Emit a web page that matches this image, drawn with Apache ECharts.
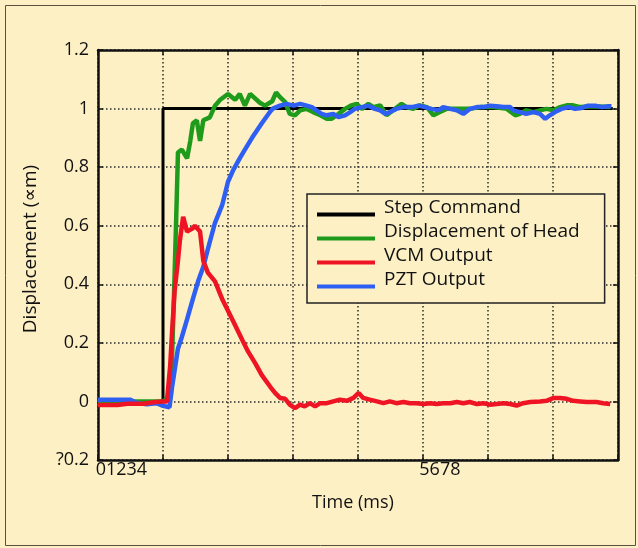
<!DOCTYPE html>
<html style="height: 100%">
<head>
  <meta charset="utf-8">
</head>
<body style="height: 100%; margin: 0; background: #fdf0c5">
  <div id="container" style="width: 638px; height: 548px"></div>
  <script src="https://cdn.jsdelivr.net/npm/echarts@6/dist/echarts.min.js"></script>
  <script type="text/javascript">
    // series names (legend order)
    var seriesNames = ['Step Command', 'Displacement of Head', 'VCM Output', 'PZT Output'];

    // tick labels as printed in the figure
    var xTickLabels = ['01234', '5678'];
    var xTickLabelAt = [0.36, 5.26];
    var yTickLabels = ['?0.2', '0', '0.2', '0.4', '0.6', '0.8', '1', '1.2'];

    // [time (ms), displacement]
    var stepData = [[0, 0], [1.0, 0], [1.0, 1], [7.92, 1]];

    var headData = [
      [0, 0], [1.0, 0], [1.12, 0.02], [1.17, 0.37], [1.2, 0.6], [1.23, 0.85],
      [1.29, 0.86], [1.37, 0.83], [1.42, 0.89], [1.46, 0.95], [1.52, 0.96],
      [1.57, 0.89], [1.62, 0.96], [1.72, 0.97], [1.8, 1.01], [1.88, 1.03],
      [2.0, 1.05], [2.11, 1.03], [2.18, 1.05], [2.26, 1.01], [2.34, 1.05],
      [2.49, 1.02], [2.57, 1.01], [2.68, 1.025], [2.74, 1.055], [2.8, 1.039],
      [2.88, 1.022], [2.95, 0.982], [3.03, 0.977], [3.11, 0.994], [3.21, 0.999],
      [3.31, 0.988], [3.42, 0.977], [3.52, 0.965], [3.59, 0.965], [3.70, 0.982],
      [3.80, 0.999], [3.90, 1.011], [3.98, 1.016], [4.06, 0.999], [4.16, 1.016],
      [4.24, 1.005], [4.34, 1.011], [4.44, 0.977], [4.54, 0.994], [4.67, 1.016],
      [4.75, 1.005], [4.85, 0.999], [4.95, 1.011], [5.06, 1.005], [5.16, 0.977],
      [5.26, 0.988], [5.36, 0.999], [5.57, 0.999], [5.72, 0.999], [5.88, 1.005],
      [6.08, 1.005], [6.29, 0.999], [6.42, 0.977], [6.49, 0.982], [6.59, 0.994],
      [6.70, 0.988], [6.80, 0.994], [6.90, 0.999], [7.01, 0.994], [7.11, 1.005],
      [7.21, 1.011], [7.31, 1.011], [7.42, 1.005], [7.62, 1.008], [7.88, 1.005]
    ];

    var vcmData = [
      [0, -0.012], [0.3, -0.012], [0.45, -0.008], [0.7, -0.008], [0.85, -0.003],
      [0.98, 0.0], [1.06, 0.0], [1.11, 0.12], [1.14, 0.24], [1.18, 0.38],
      [1.23, 0.48], [1.26, 0.55], [1.31, 0.63], [1.37, 0.58], [1.45, 0.59],
      [1.49, 0.6], [1.57, 0.58], [1.62, 0.48], [1.69, 0.44], [1.8, 0.41],
      [1.91, 0.35], [2.0, 0.31], [2.11, 0.26], [2.22, 0.21], [2.31, 0.17],
      [2.42, 0.13], [2.52, 0.09], [2.65, 0.05], [2.72, 0.03], [2.80, 0.012],
      [2.88, 0.009], [2.95, -0.011], [3.03, -0.023], [3.11, -0.011], [3.18, -0.017],
      [3.26, -0.006], [3.34, -0.017], [3.42, -0.006], [3.52, -0.006], [3.62, 0.0],
      [3.72, 0.006], [3.83, 0.002], [3.93, 0.012], [4.01, 0.029], [4.08, 0.012],
      [4.18, 0.006], [4.29, 0.0], [4.39, -0.006], [4.49, 0.0], [4.59, -0.006],
      [4.70, -0.002], [4.80, -0.006], [4.90, -0.006], [5.01, -0.009], [5.11, -0.006],
      [5.21, -0.009], [5.31, -0.006], [5.42, -0.006], [5.52, -0.002], [5.62, -0.006],
      [5.72, -0.002], [5.83, -0.009], [5.93, -0.006], [6.03, -0.011], [6.13, -0.009],
      [6.24, -0.006], [6.34, -0.009], [6.44, -0.014], [6.54, -0.006], [6.65, -0.002],
      [6.80, 0.0], [6.90, 0.002], [7.01, 0.012], [7.11, 0.012], [7.21, 0.009],
      [7.31, 0.002], [7.42, 0.0], [7.52, -0.002], [7.67, -0.002], [7.77, -0.006],
      [7.88, -0.009]
    ];

    var pztData = [
      [0, 0.006], [0.5, 0.006], [0.6, -0.005], [0.75, -0.01], [0.9, -0.006],
      [1.0, -0.015], [1.1, -0.02], [1.14, 0.05], [1.23, 0.18], [1.29, 0.22],
      [1.37, 0.28], [1.46, 0.35], [1.54, 0.41], [1.62, 0.46], [1.69, 0.52],
      [1.8, 0.61], [1.91, 0.67], [2.0, 0.75], [2.08, 0.79], [2.18, 0.83],
      [2.26, 0.86], [2.37, 0.9], [2.52, 0.95], [2.65, 0.99], [2.69, 1.0],
      [2.80, 1.01], [2.90, 1.016], [3.01, 1.01], [3.11, 1.016], [3.21, 1.01],
      [3.29, 1.005], [3.36, 0.994], [3.44, 0.982], [3.52, 0.977], [3.62, 0.982],
      [3.70, 0.971], [3.80, 0.977], [3.88, 0.988], [3.95, 0.999], [4.06, 1.005],
      [4.16, 1.01], [4.26, 0.999], [4.34, 0.994], [4.42, 0.982], [4.49, 0.988],
      [4.59, 0.999], [4.70, 1.005], [4.83, 1.005], [4.93, 1.01], [5.03, 1.005],
      [5.13, 0.999], [5.24, 0.994], [5.31, 1.005], [5.42, 0.999], [5.52, 0.994],
      [5.62, 0.982], [5.72, 0.999], [5.83, 1.005], [5.93, 1.005], [6.03, 1.01],
      [6.13, 1.008], [6.24, 1.005], [6.34, 1.005], [6.39, 0.994], [6.49, 0.988],
      [6.59, 0.982], [6.70, 0.988], [6.80, 0.982], [6.88, 0.965], [6.95, 0.977],
      [7.03, 0.988], [7.13, 0.999], [7.24, 1.005], [7.34, 0.999], [7.44, 1.002],
      [7.54, 1.01], [7.65, 1.01], [7.75, 1.005], [7.85, 1.008], [7.90, 1.008]
    ];

    var font = "'Open Sans', 'DejaVu Sans', sans-serif";
    var ink = '#111';

    var dom = document.getElementById('container');
    var myChart = echarts.init(dom, null, { renderer: 'canvas' });

    function frameAxis(pos) {
      // plain frame side: line + inward ticks, nothing else
      return {
        type: 'value',
        position: pos,
        axisLine: { show: true, onZero: false, lineStyle: { color: ink, width: 2.5 } },
        axisTick: { show: true, inside: true, length: 5, lineStyle: { color: ink, width: 1.5 } },
        axisLabel: { show: false },
        splitLine: { show: false }
      };
    }

    var xTop = frameAxis('top');
    xTop.min = 0; xTop.max = 8; xTop.interval = 1;
    var yRight = frameAxis('right');
    yRight.min = -0.2; yRight.max = 1.2; yRight.interval = 0.2;

    var option = {
      backgroundColor: '#fdf0c5',
      animation: false,
      graphic: [{
        type: 'rect',
        shape: { x: 5.5, y: 5.5, width: 630, height: 540 },
        style: { fill: 'none', stroke: '#5a5040', lineWidth: 1 },
        silent: true
      }],
      grid: { left: 98, right: 20, top: 50, bottom: 88, outerBoundsMode: 'none' },
      legend: {
        data: seriesNames,
        orient: 'vertical',
        left: 307,
        top: 194,
        icon: 'rect',
        itemWidth: 58,
        itemHeight: 4,
        itemGap: -9,
        padding: [4, 25, 0, 10],
        borderColor: '#222',
        borderWidth: 1.5,
        backgroundColor: '#fdf0c5',
        selectedMode: false,
        formatter: function (name) {
          // empty second line lifts the text above the sample line
          return name + '\n ';
        },
        textStyle: {
          fontFamily: font, fontSize: 19, color: ink,
          lineHeight: 14, padding: [0, 0, 0, 4]
        }
      },
      xAxis: [{
        type: 'value',
        min: 0,
        max: 8,
        interval: 1,
        name: 'Time (ms)',
        nameLocation: 'middle',
        nameGap: 34,
        nameTextStyle: { fontFamily: font, fontSize: 18, color: ink, padding: [0, 10, 0, 0] },
        axisLine: { show: true, onZero: false, lineStyle: { color: ink, width: 2.5 } },
        axisTick: { show: true, inside: true, length: 5, lineStyle: { color: ink, width: 1.5 } },
        axisLabel: {
          customValues: xTickLabelAt,
          margin: 1,
          fontFamily: font, fontSize: 18, color: ink,
          formatter: function (v) {
            var best = 0;
            for (var i = 1; i < xTickLabelAt.length; i++) {
              if (Math.abs(xTickLabelAt[i] - v) < Math.abs(xTickLabelAt[best] - v)) best = i;
            }
            return xTickLabels[best];
          }
        },
        splitLine: { show: true, lineStyle: { color: '#2a2a2a', width: 1.5, type: [1.5, 2.5] } }
      }, xTop],
      yAxis: [{
        type: 'value',
        min: -0.2,
        max: 1.2,
        interval: 0.2,
        name: 'Displacement (\u221dm)',
        nameLocation: 'middle',
        nameGap: 58,
        nameTextStyle: { fontFamily: font, fontSize: 19, color: ink, padding: [0, 0, 0, 12] },
        axisLine: { show: true, onZero: false, lineStyle: { color: ink, width: 2.5 } },
        axisTick: { show: true, inside: true, length: 5, lineStyle: { color: ink, width: 1.5 } },
        axisLabel: {
          margin: 9,
          padding: [0, 0, 8, 0],
          fontFamily: font, fontSize: 18, color: ink,
          formatter: function (v) {
            return yTickLabels[Math.round((v + 0.2) / 0.2)];
          }
        },
        splitLine: { show: true, lineStyle: { color: '#2a2a2a', width: 1.5, type: [1.5, 2.5] } }
      }, yRight],
      series: [
        {
          name: seriesNames[0], type: 'line', data: stepData, symbol: 'none',
          color: '#000', lineStyle: { width: 3, color: '#000' }, z: 2
        },
        {
          name: seriesNames[1], type: 'line', data: headData, symbol: 'none',
          color: '#1f9b1c', lineStyle: { width: 4.5, color: '#1f9b1c' }, z: 3
        },
        {
          name: seriesNames[3], type: 'line', data: pztData, symbol: 'none',
          color: '#2f5ff2', lineStyle: { width: 4.5, color: '#2f5ff2' }, z: 4
        },
        {
          name: seriesNames[2], type: 'line', data: vcmData, symbol: 'none',
          color: '#ef1424', lineStyle: { width: 4.5, color: '#ef1424' }, z: 5
        }
      ]
    };

    if (option && typeof option === 'object') {
      myChart.setOption(option, true);
    }
  </script>
</body>
</html>
